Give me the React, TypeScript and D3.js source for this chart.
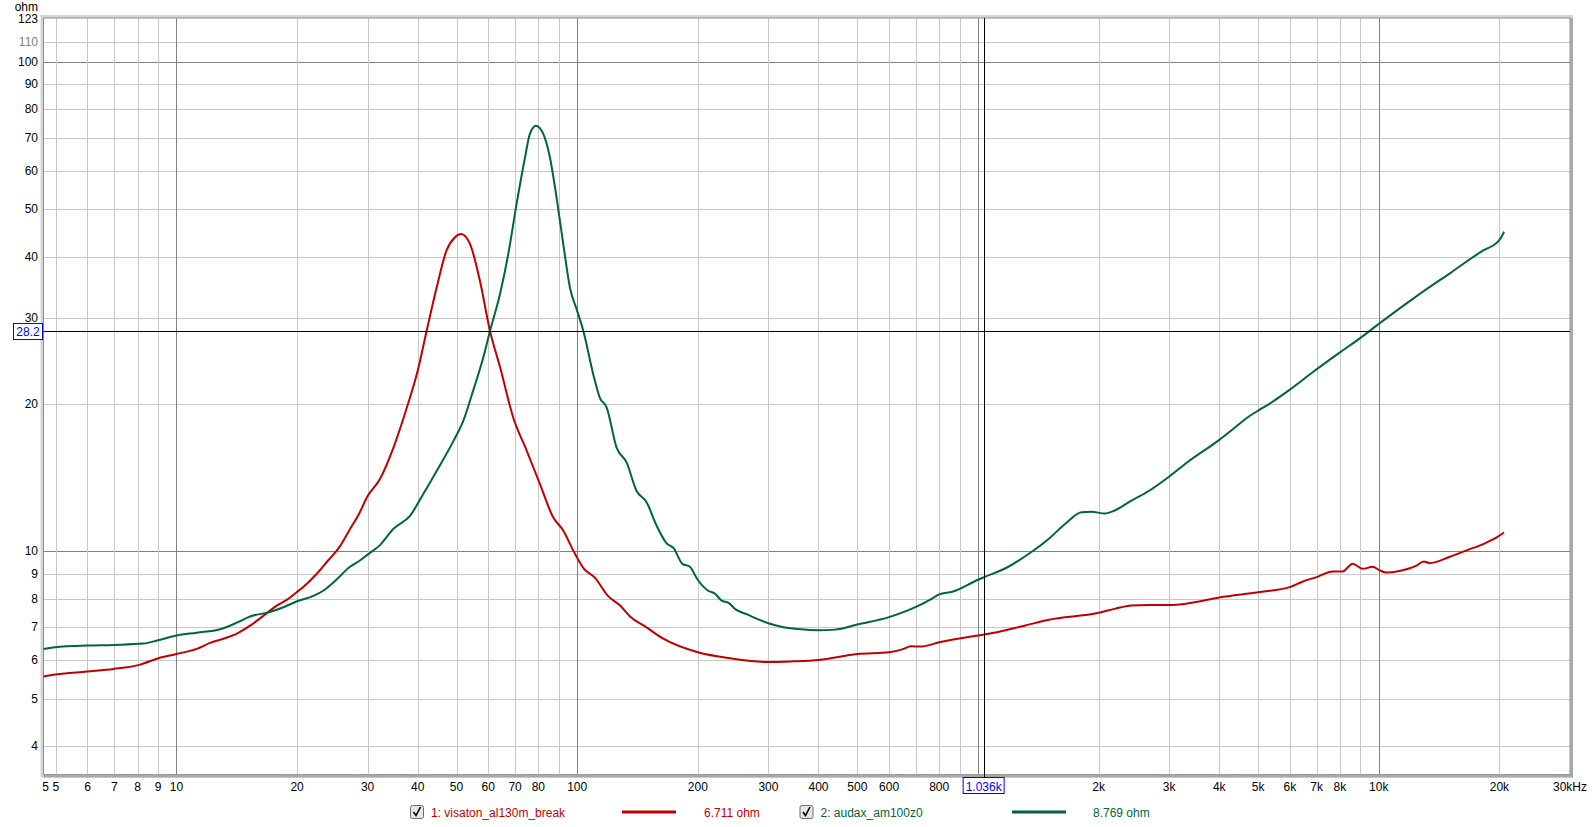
import React from 'react';
import * as d3 from 'd3';

// impedance curves (Hz, ohm)
const freqRed = [4.66, 5.0, 5.98, 6.97, 8.12, 9.02, 10, 11.24, 12.14, 13.1, 14.15, 15.27, 16.5, 17.8, 18.85, 19.95, 20.7, 22.4, 23.9, 25.5, 27.1, 28.5, 30, 32.2, 34.8, 37.6, 40, 42.1, 44.6, 47.2, 49.5, 51.3, 54, 57.2, 60.6, 64.2, 69.2, 74.8, 80.7, 87.1, 92.3, 98, 104, 110.4, 119.5, 128, 135.9, 148.6, 164, 200, 243, 300, 345, 400, 500, 600, 653, 680, 722, 800, 1000, 1036, 1306, 1493, 2000, 2193, 2415, 2661, 3000, 3349, 4000, 5000, 6000, 6445, 7000, 7670, 8124, 8606, 9117, 9660, 10000, 10430, 11270, 12410, 12950, 13400, 15040, 16560, 18230, 19680, 20540];
const ohmRed = [5.55, 5.6, 5.68, 5.75, 5.87, 6.05, 6.17, 6.32, 6.5, 6.63, 6.79, 7.05, 7.39, 7.75, 7.96, 8.25, 8.45, 9.0, 9.58, 10.2, 11.1, 11.9, 12.97, 14.06, 16.3, 19.7, 23.4, 28.2, 34.6, 41.2, 43.8, 44.5, 42.5, 35.7, 28.2, 23.8, 18.8, 16.07, 13.74, 11.74, 11.03, 10.0, 9.21, 8.86, 8.1, 7.75, 7.34, 7.0, 6.63, 6.22, 6.04, 5.94, 5.96, 6.0, 6.17, 6.22, 6.32, 6.4, 6.39, 6.52, 6.73, 6.76, 7.05, 7.24, 7.49, 7.63, 7.75, 7.77, 7.77, 7.83, 8.05, 8.25, 8.45, 8.67, 8.86, 9.1, 9.1, 9.44, 9.21, 9.3, 9.17, 9.05, 9.12, 9.35, 9.54, 9.46, 9.75, 10.05, 10.35, 10.68, 10.93];

const freqGreen = [4.66, 5.22, 6, 7, 8.27, 9, 10, 11.24, 12.85, 14.15, 15.27, 17.1, 18.5, 20, 21.96, 23.3, 25.1, 27.1, 28.7, 30, 32.2, 34.8, 38.3, 41.3, 44.6, 49.1, 52, 55, 58.3, 60.6, 64.2, 67.3, 70.6, 74.1, 76.2, 78.9, 82.3, 85.5, 88.8, 92.3, 95.9, 100, 103.6, 109.6, 113.9, 118.4, 125.4, 132.8, 140.6, 149, 157.8, 167, 174, 183, 191, 200, 211.8, 220.4, 229.4, 238.6, 248.4, 263.6, 300, 327, 361, 400, 440, 500, 600, 700, 766, 800, 863, 1000, 1036, 1184, 1345, 1500, 1654, 1811, 1920, 2071, 2193, 2415, 2661, 3000, 3349, 4000, 4384, 4741, 5000, 5323, 6000, 6826, 8000, 9000, 10000, 12410, 15040, 18230, 19680, 20090, 20540];
const ohmGreen = [6.32, 6.39, 6.42, 6.44, 6.48, 6.58, 6.73, 6.82, 6.93, 7.15, 7.36, 7.52, 7.69, 7.91, 8.11, 8.32, 8.76, 9.3, 9.58, 9.85, 10.3, 11.12, 11.83, 13.1, 14.6, 16.8, 18.5, 21.3, 24.9, 28.2, 33.6, 40.5, 51.3, 63.8, 71.3, 74.1, 71.3, 63.8, 52.9, 42.5, 34.6, 31.0, 28.2, 23.05, 20.6, 19.7, 16.3, 15.2, 13.3, 12.6, 11.29, 10.4, 10.15, 9.43, 9.3, 8.74, 8.32, 8.2, 7.93, 7.85, 7.61, 7.45, 7.13, 7.0, 6.93, 6.9, 6.92, 7.09, 7.34, 7.7, 8.0, 8.17, 8.27, 8.75, 8.86, 9.28, 9.91, 10.6, 11.4, 12.02, 12.05, 11.95, 12.12, 12.7, 13.27, 14.22, 15.26, 16.9, 17.93, 18.86, 19.4, 20.0, 21.4, 23.2, 25.5, 27.3, 29.16, 33.2, 37.0, 41.2, 42.7, 43.5, 45.0];

const yTicks = [4, 5, 6, 7, 8, 9, 10, 20, 30, 40, 50, 60, 70, 80, 90, 100, 110];
const yMajor = [10, 100];
const xGrid = [5, 6, 7, 8, 9, 10, 20, 30, 40, 50, 60, 70, 80, 90, 100, 200, 300, 400, 500, 600, 700, 800, 900, 1000, 2000, 3000, 4000, 5000, 6000, 7000, 8000, 9000, 10000, 20000];
const xMajor = [10, 100, 1000, 10000];
const xLabelValues = [5, 6, 7, 8, 9, 10, 20, 30, 40, 50, 60, 70, 80, 100, 200, 300, 400, 500, 600, 800, 2000, 3000, 4000, 5000, 6000, 7000, 8000, 10000, 20000];
const xLabelTexts = ['5', '6', '7', '8', '9', '10', '20', '30', '40', '50', '60', '70', '80', '100', '200', '300', '400', '500', '600', '800', '2k', '3k', '4k', '5k', '6k', '7k', '8k', '10k', '20k'];

const cursorFreq = 1036;
const cursorOhm = 28.2;

const series = [
  { name: '1: visaton_al130m_break', value: '6.711 ohm', color: '#c00000', freq: freqRed, ohm: ohmRed },
  { name: '2: audax_am100z0', value: '8.769 ohm', color: '#00663a', freq: freqGreen, ohm: ohmGreen },
];

const W = 1592;
const H = 827;
const left = 43.5, right = 1570, top = 18, bottom = 774.5;
const font = '"Liberation Sans", Arial, sans-serif';

export default function App() {
  const x = d3.scaleLog().domain([4.66, 30000]).range([left, right]);
  const y = d3.scaleLog().domain([3.5, 123]).range([bottom, top]);

  const line = d3.line<[number, number]>()
    .x((d) => x(d[0]))
    .y((d) => y(d[1]))
    .curve(d3.curveMonotoneX);

  const legendX = [[410.5, 431, 622, 676, 704], [800, 820.5, 1012, 1066, 1093]];

  return (
    <svg width={W} height={H} style={{ position: 'absolute', left: 0, top: 0, display: 'block' }}
      fontFamily={font} fontSize={12}>
      <rect x={0} y={0} width={W} height={H} fill="#fff" />
      {/* frame shading */}
      <rect x={left - 3} y={top - 3} width={right - left + 6} height={bottom - top + 6} fill="#d4d4d4" />
      <rect x={left} y={top} width={right - left} height={bottom - top} fill="#fff" />

      {/* grid */}
      {yTicks.map((t) => (
        <line key={'hy' + t} x1={left} x2={right} y1={Math.round(y(t)) + 0.5} y2={Math.round(y(t)) + 0.5}
          stroke={yMajor.includes(t) ? '#808080' : '#c8c8c8'} />
      ))}
      {xGrid.map((t) => (
        <line key={'vx' + t} y1={top} y2={bottom} x1={Math.round(x(t)) + 0.5} x2={Math.round(x(t)) + 0.5}
          stroke={xMajor.includes(t) ? '#808080' : '#c8c8c8'} />
      ))}

      {/* frame */}
      <rect x={left} y={top} width={right - left} height={bottom - top} fill="none" stroke="#8c8c8c" />
      <line x1={right + 1.5} x2={right + 1.5} y1={top} y2={bottom + 2} stroke="#a8a8a8" strokeWidth={3} />
      <line x1={left} x2={right + 3} y1={bottom + 1.5} y2={bottom + 1.5} stroke="#a8a8a8" strokeWidth={3} />

      {/* curves */}
      {series.map((s) => (
        <path key={s.name} d={line(s.freq.map((f, i) => [f, s.ohm[i]]))!} fill="none"
          stroke={s.color} strokeWidth={2} strokeLinejoin="round" />
      ))}

      {/* cursor */}
      <line x1={left} x2={right} y1={Math.round(y(cursorOhm)) + 0.5} y2={Math.round(y(cursorOhm)) + 0.5} stroke="#000" />
      <line y1={top} y2={bottom + 3} x1={Math.round(x(cursorFreq)) + 0.5} x2={Math.round(x(cursorFreq)) + 0.5} stroke="#000" />

      {/* y labels */}
      <text x={38} y={10.5} textAnchor="end" fill="#000">ohm</text>
      <text x={38} y={top + 4.5} textAnchor="end" fill="#000">123</text>
      {yTicks.map((t) => (
        <text key={'ly' + t} x={38} y={y(t) + 4} textAnchor="end" fill={t === 110 ? '#808080' : '#000'}>{t}</text>
      ))}
      <rect x={13.5} y={y(cursorOhm) - 7.5} width={29} height={16} fill="#fff" stroke="#0000ff" />
      <text x={28} y={y(cursorOhm) + 4.5} textAnchor="middle" fill="#0000ff">{String(cursorOhm)}</text>

      {/* x labels */}
      <text x={left + 2} y={791} textAnchor="middle">5</text>
      {xLabelValues.map((v, i) => (
        <text key={'lx' + v} x={x(v)} y={791} textAnchor="middle">{xLabelTexts[i]}</text>
      ))}
      <text x={right} y={791} textAnchor="middle">30kHz</text>
      <rect x={x(cursorFreq) - 21} y={777.5} width={41} height={16} fill="#fff" stroke="#0000ff" />
      <text x={x(cursorFreq) - 0.5} y={790.5} textAnchor="middle" fill="#0000ff">1.036k</text>

      {/* legend */}
      {series.map((s, i) => {
        const [cb, tx, l1, l2, vx] = legendX[i];
        return (
          <g key={'lg' + i}>
            <rect x={cb} y={805.5} width={13} height={13} rx={2} fill="#e6e6e6" stroke="#6e6e6e" />
            <path d={`M${cb + 3},${812} L${cb + 5.5},${815.5} L${cb + 10},${807}`} fill="none" stroke="#000" strokeWidth={1.6} />
            <text x={tx} y={816.5} fill={s.color}>{s.name}</text>
            <line x1={l1} x2={l2} y1={812} y2={812} stroke={s.color} strokeWidth={3} />
            <text x={vx} y={816.5} fill={s.color}>{s.value}</text>
          </g>
        );
      })}
    </svg>
  );
}
